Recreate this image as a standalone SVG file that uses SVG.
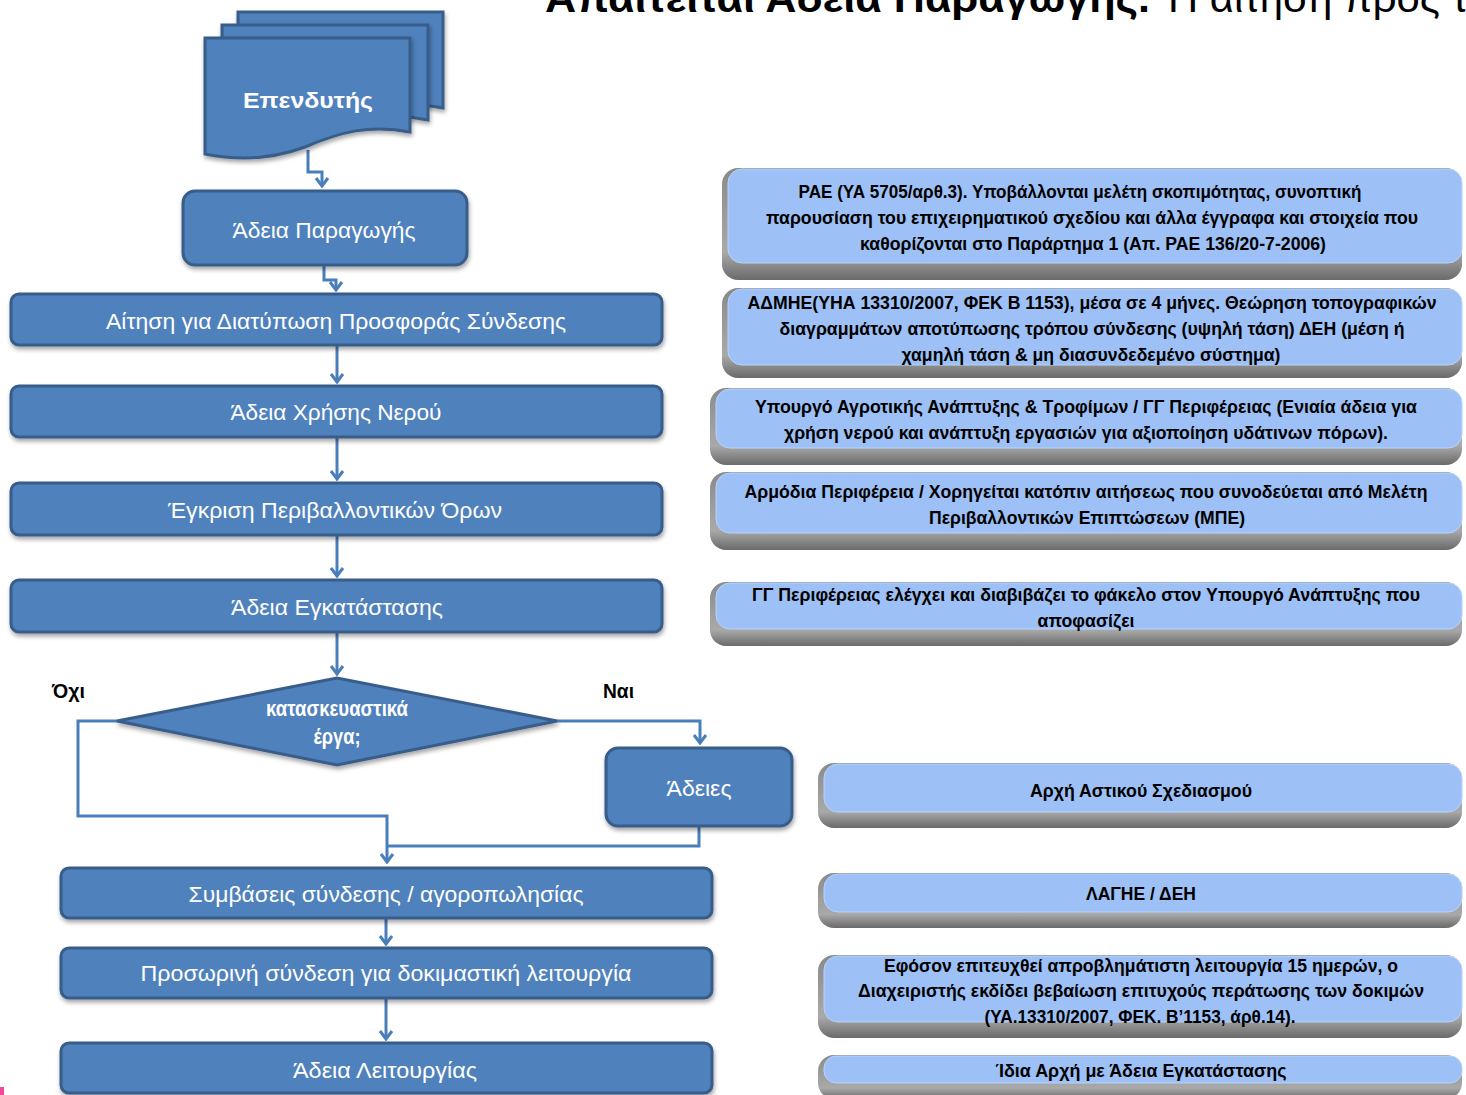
<svg xmlns="http://www.w3.org/2000/svg" width="1466" height="1095" viewBox="0 0 1466 1095">
<defs>
<linearGradient id="gray" x1="0" y1="0" x2="0" y2="1">
<stop offset="0" stop-color="#8a8a8a"/>
<stop offset="0.75" stop-color="#a9a9a9"/>
<stop offset="1" stop-color="#6a6a6a"/>
</linearGradient>
<filter id="sh" x="-5%" y="-10%" width="110%" height="130%">
<feDropShadow dx="1" dy="3" stdDeviation="2" flood-color="#000" flood-opacity="0.35"/>
</filter>
<marker id="arr" viewBox="-10 -8 12 16" refX="0" refY="0" markerWidth="12" markerHeight="16" markerUnits="userSpaceOnUse" orient="auto">
<path d="M-8,-6 L0,0 L-8,6" fill="none" stroke="#4A7EBB" stroke-width="3"/>
</marker>
<style>
.box{fill:#4F81BD;stroke:#385D8A;stroke-width:3;filter:url(#sh)}
.wt{fill:#fff;font-family:"Liberation Sans",Arial,sans-serif;font-size:22px;text-anchor:middle}
.bt{fill:#000;font-family:"Liberation Sans Narrow","Liberation Sans",Arial,sans-serif;font-weight:bold;font-size:18px;text-anchor:middle}
.lab{fill:#000;font-family:"Liberation Sans",Arial,sans-serif;font-weight:bold;font-size:20px}
.g{fill:url(#gray)}
.lb{fill:#9DC1F6;stroke:#B8D3FA;stroke-width:1}
.cn{fill:none;stroke:#4A7EBB;stroke-width:3}
</style>
</defs>
<rect width="1466" height="1095" fill="#fff"/>

<text x="545" y="12" font-family="'Liberation Sans',Arial,sans-serif" font-size="40" fill="#000"><tspan font-weight="bold" textLength="605" lengthAdjust="spacingAndGlyphs">Απαιτείται Άδεια Παραγωγής.</tspan><tspan x="1168" textLength="300" lengthAdjust="spacingAndGlyphs">Η αίτηση προς τ</tspan></text>

<g id="connectors">
<path class="cn" d="M308,150 V172 H322 V186" marker-end="url(#arr)"/>
<path class="cn" d="M324,265 V280 H336 V290" marker-end="url(#arr)"/>
<path class="cn" d="M337,345 V382" marker-end="url(#arr)"/>
<path class="cn" d="M337,437 V479" marker-end="url(#arr)"/>
<path class="cn" d="M337,535 V576" marker-end="url(#arr)"/>
<path class="cn" d="M337,632 V674" marker-end="url(#arr)"/>
<path class="cn" d="M557,721 H700 V743" marker-end="url(#arr)"/>
<path class="cn" d="M117,721 H78 V816 H387 V862" marker-end="url(#arr)"/>
<path class="cn" d="M699,826 V846 H387"/>
<path class="cn" d="M386,918 V944" marker-end="url(#arr)"/>
<path class="cn" d="M386,998 V1039" marker-end="url(#arr)"/>
</g>

<g id="n-investor">
<path class="box" d="M238,12 H443 V108 C400,100 370,108 345,118 L238,118 Z"/>
<path class="box" d="M222,25 H428 V120 C390,112 360,120 330,130 L222,130 Z"/>
<path class="box" d="M205,38 H410 V132 C370,124 340,132 305,147 C270,160 235,160 205,154 Z"/>
<text class="wt" x="308" y="108" font-size="28" font-weight="bold" textLength="130" lengthAdjust="spacingAndGlyphs">Επενδυτής</text>
</g>

<g id="n-adeia-paragogis">
<rect class="box" x="183" y="191" width="284" height="74" rx="12"/>
<text class="wt" x="324" y="238" textLength="183" lengthAdjust="spacingAndGlyphs">Άδεια Παραγωγής</text>
</g>

<g id="n-aitisi">
<rect class="box" x="11" y="294" width="651" height="51" rx="8"/>
<text class="wt" x="336" y="329" textLength="460" lengthAdjust="spacingAndGlyphs">Αίτηση για Διατύπωση Προσφοράς Σύνδεσης</text>
</g>

<g id="n-nero">
<rect class="box" x="11" y="386" width="651" height="51" rx="8"/>
<text class="wt" x="336" y="420" textLength="211" lengthAdjust="spacingAndGlyphs">Άδεια Χρήσης Νερού</text>
</g>

<g id="n-egkrisi">
<rect class="box" x="11" y="483" width="651" height="52" rx="8"/>
<text class="wt" x="335" y="518" textLength="334" lengthAdjust="spacingAndGlyphs">Έγκριση Περιβαλλοντικών Όρων</text>
</g>

<g id="n-egkatastasi">
<rect class="box" x="11" y="580" width="651" height="52" rx="8"/>
<text class="wt" x="337" y="615" textLength="212" lengthAdjust="spacingAndGlyphs">Άδεια Εγκατάστασης</text>
</g>

<g id="n-decision">
<path class="box" d="M117,721 L337,678 L557,721 L337,765 Z"/>
<text class="wt" x="337" y="716" font-size="17" font-weight="bold" textLength="142" lengthAdjust="spacingAndGlyphs">κατασκευαστικά</text>
<text class="wt" x="337" y="744" font-size="17" font-weight="bold" textLength="47" lengthAdjust="spacingAndGlyphs">έργα;</text>
</g>
<text class="lab" x="52" y="698" textLength="33" lengthAdjust="spacingAndGlyphs">Όχι</text>
<text class="lab" x="603" y="698" textLength="31" lengthAdjust="spacingAndGlyphs">Ναι</text>

<g id="n-adeies">
<rect class="box" x="606" y="748" width="186" height="78" rx="12"/>
<text class="wt" x="699" y="796" textLength="65" lengthAdjust="spacingAndGlyphs">Άδειες</text>
</g>

<g id="n-symvaseis">
<rect class="box" x="61" y="868" width="651" height="50" rx="8"/>
<text class="wt" x="386" y="902" textLength="395" lengthAdjust="spacingAndGlyphs">Συμβάσεις σύνδεσης / αγοροπωλησίας</text>
</g>

<g id="n-prosorini">
<rect class="box" x="61" y="948" width="651" height="50" rx="8"/>
<text class="wt" x="386" y="981" textLength="491" lengthAdjust="spacingAndGlyphs">Προσωρινή σύνδεση για δοκιμαστική λειτουργία</text>
</g>

<g id="n-leitourgia">
<rect class="box" x="61" y="1043" width="651" height="50" rx="8"/>
<text class="wt" x="385" y="1078" textLength="184" lengthAdjust="spacingAndGlyphs">Άδεια Λειτουργίας</text>
</g>

<g id="r1">
<rect class="g" x="722" y="168" width="740" height="112" rx="16"/>
<rect class="lb" x="728" y="169" width="734" height="94" rx="14"/>
<text class="bt" x="1080" y="198" textLength="563" lengthAdjust="spacingAndGlyphs">ΡΑΕ (ΥΑ 5705/αρθ.3). Υποβάλλονται μελέτη σκοπιμότητας, συνοπτική</text>
<text class="bt" x="1092" y="224" textLength="652" lengthAdjust="spacingAndGlyphs">παρουσίαση του επιχειρηματικού σχεδίου και άλλα έγγραφα και στοιχεία που</text>
<text class="bt" x="1093" y="250" textLength="466" lengthAdjust="spacingAndGlyphs">καθορίζονται στο Παράρτημα 1 (Απ. ΡΑΕ 136/20-7-2006)</text>
</g>

<g id="r2">
<rect class="g" x="722" y="288" width="740" height="90" rx="16"/>
<rect class="lb" x="728" y="289" width="734" height="76" rx="14"/>
<text class="bt" x="1092" y="309" textLength="689" lengthAdjust="spacingAndGlyphs">ΑΔΜΗΕ(ΥΗΑ 13310/2007, ΦΕΚ Β 1153), μέσα σε 4 μήνες. Θεώρηση τοπογραφικών</text>
<text class="bt" x="1092" y="335" textLength="625" lengthAdjust="spacingAndGlyphs">διαγραμμάτων αποτύπωσης τρόπου σύνδεσης (υψηλή τάση) ΔΕΗ (μέση ή</text>
<text class="bt" x="1091" y="361" textLength="379" lengthAdjust="spacingAndGlyphs">χαμηλή τάση &amp; μη διασυνδεδεμένο σύστημα)</text>
</g>

<g id="r3">
<rect class="g" x="710" y="388" width="752" height="77" rx="16"/>
<rect class="lb" x="716" y="389" width="746" height="59" rx="14"/>
<text class="bt" x="1086" y="413" textLength="662" lengthAdjust="spacingAndGlyphs">Υπουργό Αγροτικής Ανάπτυξης &amp; Τροφίμων / ΓΓ Περιφέρειας (Ενιαία άδεια για</text>
<text class="bt" x="1086" y="439" textLength="604" lengthAdjust="spacingAndGlyphs">χρήση νερού και ανάπτυξη εργασιών για αξιοποίηση υδάτινων πόρων).</text>
</g>

<g id="r4">
<rect class="g" x="710" y="472" width="752" height="78" rx="16"/>
<rect class="lb" x="716" y="473" width="746" height="60" rx="14"/>
<text class="bt" x="1086" y="498" textLength="683" lengthAdjust="spacingAndGlyphs">Αρμόδια Περιφέρεια / Χορηγείται κατόπιν αιτήσεως που συνοδεύεται από Μελέτη</text>
<text class="bt" x="1087" y="524" textLength="316" lengthAdjust="spacingAndGlyphs">Περιβαλλοντικών Επιπτώσεων (ΜΠΕ)</text>
</g>

<g id="r5">
<rect class="g" x="710" y="582" width="752" height="64" rx="16"/>
<rect class="lb" x="716" y="583" width="746" height="46" rx="14"/>
<text class="bt" x="1086" y="601" textLength="668" lengthAdjust="spacingAndGlyphs">ΓΓ Περιφέρειας ελέγχει και διαβιβάζει το φάκελο στον Υπουργό Ανάπτυξης που</text>
<text class="bt" x="1086" y="627" textLength="97" lengthAdjust="spacingAndGlyphs">αποφασίζει</text>
</g>

<g id="r6">
<rect class="g" x="818" y="763" width="644" height="65" rx="16"/>
<rect class="lb" x="824" y="764" width="638" height="48" rx="14"/>
<text class="bt" x="1141" y="797" textLength="222" lengthAdjust="spacingAndGlyphs">Αρχή Αστικού Σχεδιασμού</text>
</g>

<g id="r7">
<rect class="g" x="818" y="873" width="644" height="55" rx="16"/>
<rect class="lb" x="824" y="874" width="638" height="38" rx="14"/>
<text class="bt" x="1141" y="900" textLength="110" lengthAdjust="spacingAndGlyphs">ΛΑΓΗΕ / ΔΕΗ</text>
</g>

<g id="r8">
<rect class="g" x="818" y="955" width="644" height="83" rx="16"/>
<rect class="lb" x="824" y="956" width="638" height="66" rx="14"/>
<text class="bt" x="1141" y="972" textLength="514" lengthAdjust="spacingAndGlyphs">Εφόσον επιτευχθεί απροβλημάτιστη λειτουργία 15 ημερών, ο</text>
<text class="bt" x="1141" y="997" textLength="566" lengthAdjust="spacingAndGlyphs">Διαχειριστής εκδίδει βεβαίωση επιτυχούς περάτωσης των δοκιμών</text>
<text class="bt" x="1140" y="1023" textLength="311" lengthAdjust="spacingAndGlyphs">(ΥΑ.13310/2007, ΦΕΚ. Β’1153, άρθ.14).</text>
</g>

<g id="r9">
<rect class="g" x="818" y="1055" width="644" height="44" rx="16"/>
<rect class="lb" x="824" y="1056" width="638" height="27" rx="12"/>
<text class="bt" x="1141" y="1077" textLength="291" lengthAdjust="spacingAndGlyphs">Ίδια Αρχή με Άδεια Εγκατάστασης</text>
</g>

<rect x="0" y="1087" width="4" height="8" fill="#F2499C"/>
</svg>
